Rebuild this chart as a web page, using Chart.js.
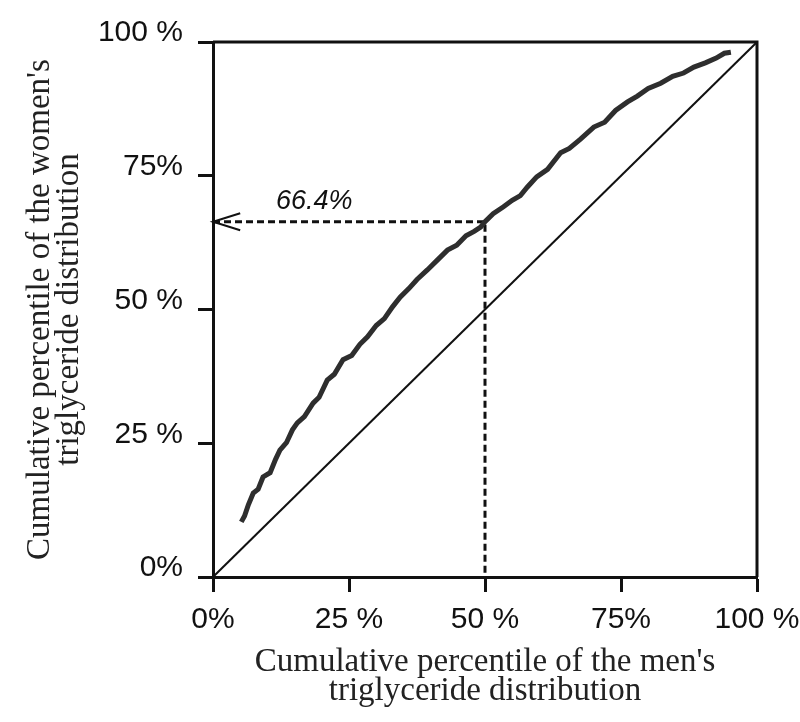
<!DOCTYPE html>
<html>
<head>
<meta charset="utf-8">
<script src="https://cdn.jsdelivr.net/npm/chart.js@4/dist/chart.umd.min.js"></script>
<style>
  html, body { margin: 0; padding: 0; background: #fff; }
  #wrap { width: 800px; height: 722px; position: relative; }
</style>
</head>
<body>
<div id="wrap"><canvas id="chart"></canvas></div>
<script>
// men's percentile (x) vs women's percentile (y)
const menPct = [5.2, 5.8, 6.5, 7.4, 8.3, 9.2, 10.5, 11.5, 12.3, 13.5, 14.6, 15.5, 16.8, 18.4, 19.5,
  21.0, 22.3, 23.9, 25.5, 27.0, 28.4, 30.0, 31.5, 33.0, 34.4, 36.0, 37.5, 39.4, 41.0, 43.1,
  44.8, 46.5, 48.0, 49.2, 50.0, 51.5, 53.4, 55.0, 56.5, 57.8, 59.5, 61.5, 63.9, 65.5, 67.5,
  70.0, 72.0, 74.0, 76.2, 78.0, 80.0, 82.3, 84.5, 86.5, 88.4, 90.5, 92.5, 94.0, 95.2];
const womenPct = [10.3, 11.4, 13.5, 15.7, 16.4, 18.7, 19.5, 22.0, 23.7, 25.1, 27.5, 28.8, 30.0, 32.5, 33.6,
  36.8, 37.9, 40.6, 41.4, 43.5, 44.9, 47.0, 48.3, 50.5, 52.3, 53.9, 55.6, 57.4, 59.0, 61.1,
  62.0, 63.8, 64.6, 65.4, 66.4, 67.9, 69.2, 70.4, 71.3, 72.9, 74.8, 76.2, 79.3, 80.1, 81.8,
  84.1, 85.0, 87.2, 88.8, 89.9, 91.3, 92.3, 93.6, 94.2, 95.3, 96.1, 97.0, 97.9, 98.1];

const xTickLabels = ['0%', '25 %', '50 %', '75%', '100 %'];
const yTickLabels = ['0%', '25 %', '50 %', '75%', '100 %'];

const medianMen = 50;
const medianWomen = 66.4;
const medianLabel = '66.4%';

const serif = '"Liberation Serif", "Times New Roman", serif';
const sans = '"Liberation Sans", Arial, Helvetica, sans-serif';

// closes the box on the top and right side
const frameBox = {
  id: 'frameBox',
  beforeDatasetsDraw(chart) {
    const {ctx, chartArea: a} = chart;
    ctx.save();
    ctx.strokeStyle = '#111';
    ctx.lineWidth = 3;
    ctx.beginPath();
    ctx.moveTo(a.left, a.top);
    ctx.lineTo(a.right, a.top);
    ctx.lineTo(a.right, a.bottom);
    ctx.stroke();
    ctx.restore();
  }
};

const medianText = {
  id: 'medianText',
  afterDatasetsDraw(chart) {
    const {ctx, scales: {x, y}} = chart;
    ctx.save();
    ctx.font = 'italic 27px ' + sans;
    ctx.fillStyle = '#111';
    ctx.textAlign = 'center';
    ctx.textBaseline = 'middle';
    ctx.fillText(medianLabel, x.getPixelForValue(18.6), y.getPixelForValue(70.1));
    ctx.restore();
  }
};

const ctx = document.getElementById('chart');
new Chart(ctx, {
  type: 'scatter',
  data: {
    datasets: [
      {
        label: 'curve',
        data: menPct.map((v, i) => ({x: v, y: womenPct[i]})),
        showLine: true,
        borderColor: '#2e2e2e',
        borderWidth: 5,
        pointRadius: 0,
        tension: 0
      },
      {
        label: 'equality',
        data: [{x: 0, y: 0}, {x: 100, y: 100}],
        showLine: true,
        borderColor: '#111',
        borderWidth: 2,
        pointRadius: 0
      },
      {
        label: 'median',
        data: [{x: 0, y: medianWomen}, {x: medianMen, y: medianWomen}, {x: medianMen, y: 0}],
        showLine: true,
        borderColor: '#111',
        borderWidth: 3,
        borderDash: [7, 4],
        pointRadius: 0
      },
      {
        label: 'arrow',
        data: [{x: 5, y: 68.0}, {x: 0, y: medianWomen}, {x: 5, y: 64.8}],
        showLine: true,
        borderColor: '#111',
        borderWidth: 2,
        pointRadius: 0,
        clip: false
      }
    ]
  },
  options: {
    responsive: true,
    maintainAspectRatio: false,
    animation: false,
    layout: { padding: { top: 42, right: 43, left: 0, bottom: 0 } },
    plugins: {
      legend: { display: false },
      tooltip: { enabled: false }
    },
    scales: {
      x: {
        type: 'linear',
        min: 0,
        max: 100,
        afterFit(scale) {
          scale.height = 145;
          scale.paddingLeft = 0;
          scale.paddingRight = 0;
        },
        border: { display: true, color: '#111', width: 3 },
        grid: { drawOnChartArea: false, drawTicks: true, tickLength: 15, tickWidth: 3, tickColor: '#111' },
        ticks: {
          stepSize: 25,
          padding: 10,
          color: '#111',
          maxRotation: 0,
          font: { family: sans, size: 30 },
          callback: (v) => xTickLabels[v / 25]
        },
        title: {
          display: true,
          text: ["Cumulative percentile of the men's", 'triglyceride distribution'],
          color: '#222',
          font: { family: serif, size: 33, lineHeight: '29px' },
          padding: { top: 0, bottom: 16 }
        }
      },
      y: {
        type: 'linear',
        min: 0,
        max: 100,
        afterFit(scale) {
          scale.width = 213;
          scale.paddingTop = 0;
          scale.paddingBottom = 0;
        },
        border: { display: true, color: '#111', width: 3 },
        grid: { drawOnChartArea: false, drawTicks: true, tickLength: 15, tickWidth: 3, tickColor: '#111' },
        ticks: {
          stepSize: 25,
          padding: 15,
          labelOffset: -9,
          color: '#111',
          font: { family: sans, size: 30 },
          callback: (v) => yTickLabels[v / 25]
        },
        title: {
          display: true,
          text: ["Cumulative percentile of the women's", 'triglyceride distribution'],
          color: '#222',
          font: { family: serif, size: 33, lineHeight: '29px' },
          padding: { top: 26, bottom: 0 }
        }
      }
    }
  },
  plugins: [frameBox, medianText]
});
</script>
</body>
</html>
